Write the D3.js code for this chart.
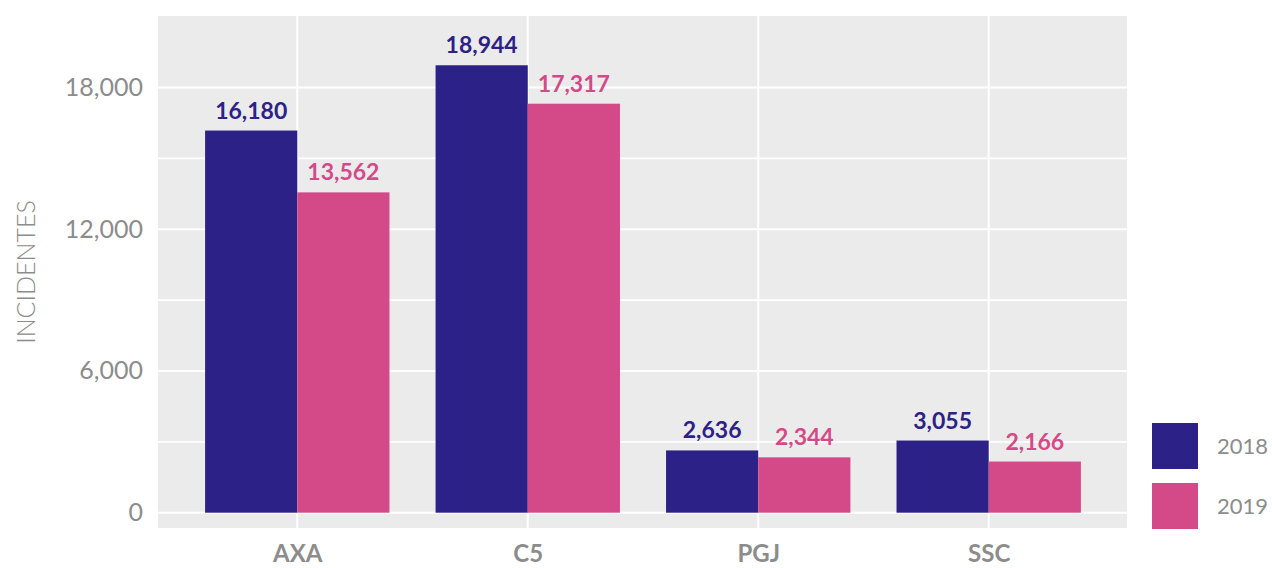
<!DOCTYPE html>
<html>
<head>
<meta charset="utf-8">
<script src="https://cdn.jsdelivr.net/npm/d3@7"></script>
<style>
  body { margin: 0; background: #fff; }
  text { font-family: Lato, "Open Sans", sans-serif; }
</style>
</head>
<body>
<svg></svg>
<script>
//Chart data
var categories = ['AXA', 'C5', 'PGJ', 'SSC'];
var years = ['2018', '2019'];
var values2018 = [16180, 18944, 2636, 3055];
var values2019 = [13562, 17317, 2344, 2166];
var yTicks = [0, 6000, 12000, 18000];
var yMinor = [3000, 9000, 15000];

var colors = {'2018': '#2C2186', '2019': '#D44A88'};
var grey = '#8C8C8C';

//Set Dimensions of svg
var width = 1272;
var height = 568;
var svg = d3.select('svg')
            .attr('width', width)
            .attr('height', height);

var panel = {left: 158, right: 1127, top: 16, bottom: 528};

//Scales
var x = d3.scalePoint()
          .domain(categories)
          .range([panel.left + 1, panel.right])
          .padding(0.6);

var step = x.step();
var inner = d3.scaleBand()
              .domain(years)
              .range([-step * 0.4, step * 0.4]);

var y = d3.scaleLinear()
          .domain([-648, 21030])
          .range([panel.bottom, panel.top]);

//Panel background
svg.append('rect')
   .attr('x', panel.left)
   .attr('y', panel.top)
   .attr('width', panel.right - panel.left)
   .attr('height', panel.bottom - panel.top)
   .attr('fill', '#EBEBEB');

//Grid lines
var grid = svg.append('g').attr('class', 'grid');
grid.selectAll('line.minor')
    .data(yMinor)
    .enter()
    .append('line')
    .attr('class', 'minor')
    .attr('x1', panel.left).attr('x2', panel.right)
    .attr('y1', d => y(d)).attr('y2', d => y(d))
    .attr('stroke', '#fff').attr('stroke-width', 1.6);

grid.selectAll('line.major')
    .data(yTicks)
    .enter()
    .append('line')
    .attr('class', 'major')
    .attr('x1', panel.left).attr('x2', panel.right)
    .attr('y1', d => y(d)).attr('y2', d => y(d))
    .attr('stroke', '#fff').attr('stroke-width', 2);

grid.selectAll('line.vert')
    .data(categories)
    .enter()
    .append('line')
    .attr('class', 'vert')
    .attr('x1', d => x(d)).attr('x2', d => x(d))
    .attr('y1', panel.top).attr('y2', panel.bottom)
    .attr('stroke', '#fff').attr('stroke-width', 2);

//Bars and labels
var rows = categories.map(function(c, i) {
  return {cat: c, vals: [
    {year: '2018', value: values2018[i]},
    {year: '2019', value: values2019[i]}
  ]};
});

var groups = svg.append('g')
                .selectAll('g')
                .data(rows)
                .enter()
                .append('g')
                .attr('transform', d => 'translate(' + x(d.cat) + ',0)');

groups.selectAll('rect')
      .data(d => d.vals)
      .enter()
      .append('rect')
      .attr('x', d => inner(d.year))
      .attr('width', inner.bandwidth())
      .attr('y', d => y(d.value))
      .attr('height', d => y(0) - y(d.value))
      .attr('fill', d => colors[d.year]);

groups.selectAll('text')
      .data(d => d.vals)
      .enter()
      .append('text')
      .attr('x', d => inner(d.year) + inner.bandwidth() / 2)
      .attr('y', d => y(d.value) - 12)
      .attr('text-anchor', 'middle')
      .attr('font-size', 23)
      .attr('font-weight', 700)
      .attr('fill', d => colors[d.year])
      .text(d => d3.format(',')(d.value));

//Y axis
var yAxis = d3.axisLeft(y)
              .tickValues(yTicks)
              .tickSize(0)
              .tickPadding(15)
              .tickFormat(d3.format(','));

svg.append('g')
   .attr('transform', 'translate(' + panel.left + ',0)')
   .call(yAxis)
   .call(g => g.select('.domain').remove())
   .selectAll('text')
   .attr('fill', grey)
   .attr('font-size', 25)
   .attr('font-family', 'Lato, sans-serif');

//X axis
var xAxis = d3.axisBottom(x)
              .tickSize(0)
              .tickPadding(17);

svg.append('g')
   .attr('transform', 'translate(0,' + panel.bottom + ')')
   .call(xAxis)
   .call(g => g.select('.domain').remove())
   .selectAll('text')
   .attr('fill', grey)
   .attr('font-size', 24)
   .attr('font-weight', 700)
   .attr('font-family', 'Lato, sans-serif');

//Y axis title
svg.append('text')
   .attr('transform', 'translate(35,' + (panel.top + panel.bottom) / 2 + ') rotate(-90)')
   .attr('text-anchor', 'middle')
   .attr('font-size', 25)
   .attr('font-weight', 300)
   .attr('fill', grey)
   .text('INCIDENTES');

//Legend
var legend = svg.append('g')
                .attr('transform', 'translate(1152,423)');

var items = legend.selectAll('g')
                  .data(years)
                  .enter()
                  .append('g')
                  .attr('transform', (d, i) => 'translate(0,' + i * 60 + ')');

items.append('rect')
     .attr('width', 46)
     .attr('height', 46)
     .attr('fill', d => colors[d]);

items.append('text')
     .attr('x', 65)
     .attr('y', 23)
     .attr('dy', '0.35em')
     .attr('font-size', 22)
     .attr('fill', grey)
     .text(d => d);
</script>
</body>
</html>
